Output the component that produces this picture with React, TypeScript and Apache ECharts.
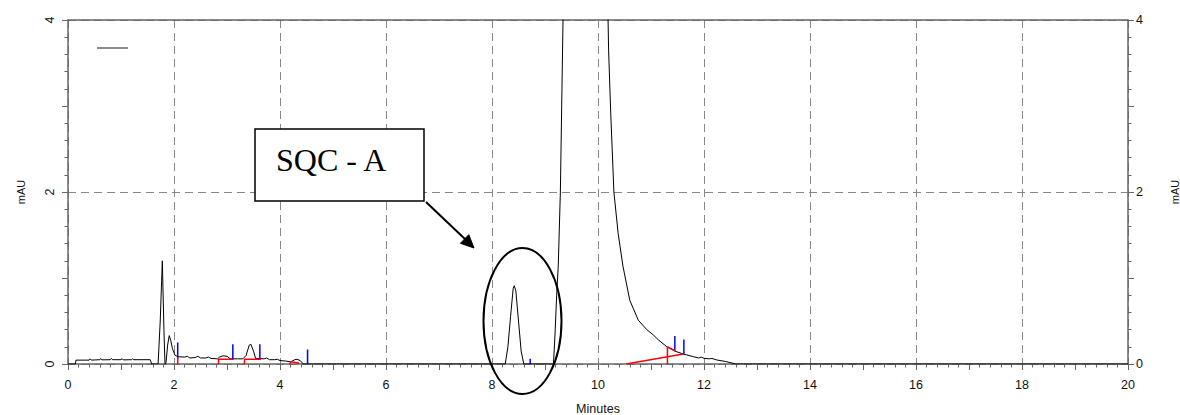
import React, { useEffect, useRef } from "react";
import * as echarts from "echarts";

// Chromatogram trace (minutes, mAU)
const traceTime = [
  0, 0.14, 0.15, 0.4, 0.42, 0.44, 0.6, 0.62, 0.64, 0.8, 0.82, 0.84, 1.0, 1.02, 1.04, 1.2, 1.22, 1.24, 1.55, 1.58,
  1.7, 1.74, 1.78, 1.81, 1.83, 1.85, 1.88, 1.91, 1.94, 1.97, 2.02, 2.08, 2.2, 2.25, 2.3, 2.4, 2.45, 2.5, 2.6, 2.65,
  2.7, 2.82, 2.86, 2.92, 3.0, 3.06, 3.2, 3.3, 3.36, 3.42, 3.45, 3.5, 3.54, 3.7, 3.75, 3.8, 3.9, 3.95, 4.0, 4.1,
  4.2, 4.28, 4.32, 4.38, 4.44, 8.25, 8.3, 8.35, 8.4, 8.42, 8.45, 8.5, 8.55, 8.6, 9.16, 9.19, 9.22, 9.25, 9.29, 9.34,
  9.4, 9.75, 10.15, 10.19, 10.2, 10.24, 10.3, 10.38, 10.47, 10.6, 10.76, 10.92, 11.04, 11.14, 11.3, 11.45, 11.61,
  11.8, 11.9, 11.95, 12.0, 12.1, 12.15, 12.24, 12.4, 12.55, 12.6, 20,
];
const traceMAU = [
  0, 0, 0.045, 0.045, 0.06, 0.045, 0.05, 0.062, 0.048, 0.05, 0.065, 0.05, 0.05, 0.062, 0.048, 0.05, 0.06, 0.05, 0.05, 0,
  0, 0.5, 1.2, 0.4, 0, 0.02, 0.22, 0.33, 0.27, 0.18, 0.1, 0.085, 0.08, 0.09, 0.07, 0.075, 0.09, 0.07, 0.07, 0.08,
  0.065, 0.06, 0.08, 0.095, 0.09, 0.06, 0.06, 0.06, 0.1, 0.22, 0.23, 0.15, 0.065, 0.06, 0.07, 0.05, 0.05, 0.055, 0.04, 0.035,
  0.025, 0.05, 0.055, 0.04, 0, 0, 0.2, 0.55, 0.88, 0.91, 0.85, 0.5, 0.15, 0, 0, 0.36, 0.8, 1.14, 2.0, 4.0,
  12, 40, 8, 4.0, 3.65, 2.92, 2.0, 1.52, 1.14, 0.74, 0.51, 0.4, 0.34, 0.28, 0.2, 0.15, 0.116,
  0.085, 0.07, 0.08, 0.066, 0.06, 0.065, 0.047, 0.03, 0.008, 0, 0,
];

// Blue peak-end markers
const markTime = [2.07, 3.11, 3.62, 4.52, 8.72, 11.45, 11.62];
const markLow = [0.06, 0.05, 0.05, 0, 0, 0.15, 0.11];
const markHigh = [0.25, 0.23, 0.23, 0.17, 0.06, 0.325, 0.285];

// Red integration baselines
const baseSegTime = [
  [2.07, 2.07],
  [2.84, 2.84, 3.11],
  [3.33, 3.33, 3.64],
  [4.18, 4.21, 4.36],
  [10.53, 11.61],
  [11.31, 11.31, 11.45],
];
const baseSegMAU = [
  [0, 0.08],
  [0, 0.055, 0.055],
  [0, 0.055, 0.055],
  [0, 0.025, 0.01],
  [0, 0.116],
  [0, 0.2, 0.155],
];

const xMin = 0;
const xMax = 20;
const yMin = 0;
const yMax = 4;
const annotationText = "SQC - A";

export default function App() {
  const ref = useRef<HTMLDivElement>(null);
  useEffect(() => {
    document.body.style.margin = "0";
    if (!ref.current) return;
    const chart = echarts.init(ref.current, undefined, { renderer: "svg" });
    const axisColor = "#666";
    const labelFont = { fontFamily: "Liberation Sans, Arial, sans-serif", color: "#111" };
    const evenOnly = (v: number) => (Math.round(v) % 2 === 0 ? String(Math.round(v)) : "");

    const series: any[] = [
      {
        type: "line",
        xAxisIndex: 0,
        yAxisIndex: 0,
        data: traceTime.map((t, i) => [t, traceMAU[i]]),
        showSymbol: false,
        symbol: "none",
        lineStyle: { color: "#000", width: 1 },
        clip: true,
        silent: true,
        z: 3,
      },
    ];
    markTime.forEach((t, i) => {
      series.push({
        type: "line",
        xAxisIndex: 0,
        yAxisIndex: 0,
        data: [
          [t, markLow[i]],
          [t, markHigh[i]],
        ],
        symbol: "none",
        lineStyle: { color: "#0000ff", width: 1.5 },
        silent: true,
        z: 4,
      });
    });
    baseSegTime.forEach((ts, i) => {
      series.push({
        type: "line",
        xAxisIndex: 0,
        yAxisIndex: 0,
        data: ts.map((t, j) => [t, baseSegMAU[i][j]]),
        symbol: "none",
        lineStyle: { color: "#ff0000", width: 1.5 },
        silent: true,
        z: 4,
      });
    });

    chart.setOption({
      animation: false,
      backgroundColor: "#fff",
      grid: { left: 68, right: 52, top: 20, bottom: 51, containLabel: false, outerBoundsMode: "none" },
      xAxis: [
        {
          type: "value",
          position: "bottom",
          min: xMin,
          max: xMax,
          interval: 1,
          name: "Minutes",
          nameLocation: "middle",
          nameGap: 38,
          nameTextStyle: { ...labelFont, fontSize: 12.5 },
          axisLine: { show: true, onZero: false, lineStyle: { color: axisColor, width: 1.5 } },
          axisTick: { show: true, length: 6, lineStyle: { color: axisColor } },
          minorTick: { show: true, splitNumber: 5, length: 3.5, lineStyle: { color: axisColor } },
          axisLabel: { ...labelFont, fontSize: 12.5, margin: 14, formatter: evenOnly },
          splitLine: { show: false },
        },
        {
          type: "value",
          position: "top",
          min: xMin,
          max: xMax,
          interval: 2,
          axisLine: { show: true, onZero: false, lineStyle: { color: axisColor, width: 1.5 } },
          axisTick: { show: false },
          axisLabel: { show: false },
          splitLine: { show: true, lineStyle: { color: "#888", type: [8, 5], width: 1 } },
        },
      ],
      yAxis: [
        {
          type: "value",
          position: "left",
          min: yMin,
          max: yMax,
          interval: 1,
          name: "mAU",
          nameLocation: "middle",
          nameRotate: 90,
          nameGap: 42,
          nameTextStyle: { ...labelFont, fontSize: 11 },
          axisLine: { show: true, onZero: false, lineStyle: { color: axisColor, width: 1.5 } },
          axisTick: { show: true, length: 6, lineStyle: { color: axisColor } },
          minorTick: { show: true, splitNumber: 5, length: 3.5, lineStyle: { color: axisColor } },
          axisLabel: { ...labelFont, fontSize: 12.5, margin: 12, rotate: 90, formatter: evenOnly },
          splitLine: { show: false },
        },
        {
          type: "value",
          position: "right",
          min: yMin,
          max: yMax,
          interval: 1,
          name: "mAU",
          nameLocation: "middle",
          nameRotate: 90,
          nameGap: 41,
          nameTextStyle: { ...labelFont, fontSize: 11 },
          axisLine: { show: true, onZero: false, lineStyle: { color: axisColor, width: 1.5 } },
          axisTick: { show: true, length: 6, lineStyle: { color: axisColor } },
          minorTick: { show: true, splitNumber: 5, length: 3.5, lineStyle: { color: axisColor } },
          axisLabel: { ...labelFont, fontSize: 12.5, margin: 8, formatter: evenOnly },
          splitLine: { show: false },
        },
        {
          type: "value",
          position: "left",
          min: yMin,
          max: yMax,
          interval: 2,
          axisLine: { show: false },
          axisTick: { show: false },
          axisLabel: { show: false },
          splitLine: { show: true, lineStyle: { color: "#888", type: [8, 5], width: 1 } },
        },
      ],
      series,
      graphic: [
        {
          type: "line",
          shape: { x1: 97, y1: 48, x2: 128, y2: 48 },
          style: { stroke: "#666", lineWidth: 1.5 },
          z: 10,
        },
        {
          type: "ellipse",
          shape: { cx: 522.5, cy: 321, rx: 39, ry: 73 },
          style: { fill: "none", stroke: "#000", lineWidth: 2 },
          z: 10,
        },
        {
          type: "rect",
          shape: { x: 255, y: 129, width: 169, height: 72 },
          style: { fill: "#fff", stroke: "#000", lineWidth: 1.5 },
          z: 10,
        },
        {
          type: "text",
          x: 276,
          y: 160,
          style: {
            text: annotationText,
            fontFamily: "Liberation Serif, Times New Roman, serif",
            fontSize: 32,
            fill: "#000",
            textAlign: "left",
            textVerticalAlign: "middle",
          },
          z: 11,
        },
        {
          type: "line",
          shape: { x1: 426, y1: 202, x2: 466, y2: 240 },
          style: { stroke: "#000", lineWidth: 2 },
          z: 10,
        },
        {
          type: "polygon",
          shape: { points: [[474, 248], [460.4, 243.3], [468.8, 234.7]] },
          style: { fill: "#000", stroke: "#000", lineWidth: 1 },
          z: 10,
        },
      ],
    });
    return () => chart.dispose();
  }, []);
  return <div ref={ref} style={{ width: 1180, height: 415 }} />;
}
